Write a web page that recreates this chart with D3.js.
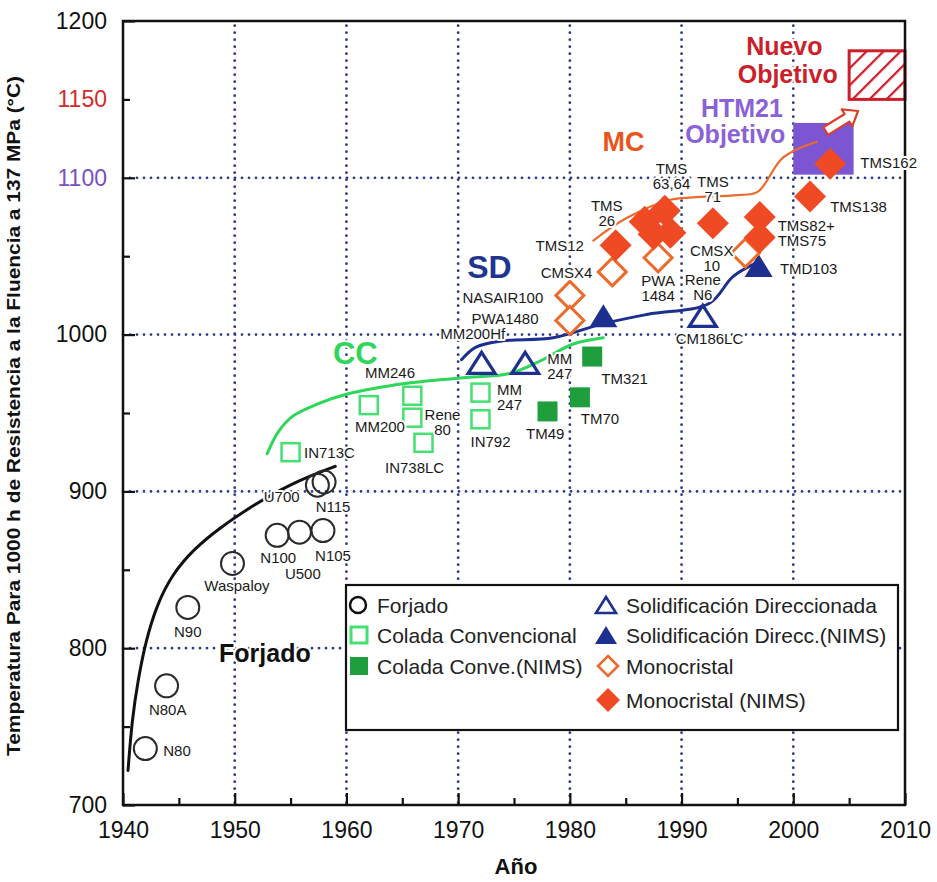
<!DOCTYPE html>
<html lang="es">
<head>
<meta charset="UTF-8">
<title>Temperatura de fluencia de superaleaciones</title>
<script src="https://cdn.jsdelivr.net/npm/d3@7"></script>
<style>
  body { margin: 0; background: #fff; }
  svg text { font-family: "Liberation Sans", Arial, sans-serif; }
  .lbl { font-size: 15px; fill: #1a1a1a; paint-order: stroke; stroke: #fff; stroke-width: 4px; stroke-linejoin: round; }
</style>
</head>
<body>
<svg id="chart" width="937" height="882"></svg>
<script>
// ---- data (year, temperature in °C) ----
const forjado = [
  { name: 'N80', year: 1942.0, temp: 736 },
  { name: 'N80A', year: 1943.9, temp: 776 },
  { name: 'N90', year: 1945.8, temp: 826 },
  { name: 'Waspaloy', year: 1949.8, temp: 854 },
  { name: 'N100', year: 1953.8, temp: 872 },
  { name: 'U500', year: 1955.8, temp: 874 },
  { name: 'N105', year: 1957.9, temp: 875 },
  { name: 'U700', year: 1957.4, temp: 904 },
  { name: 'N115', year: 1958.0, temp: 906 }
]
const colada = [
  { name: 'IN713C', year: 1955.0, temp: 925 },
  { name: 'MM200', year: 1962.0, temp: 955 },
  { name: 'MM246', year: 1965.9, temp: 961 },
  { name: 'Rene 80', year: 1965.9, temp: 947 },
  { name: 'IN738LC', year: 1966.9, temp: 931 },
  { name: 'MM 247', year: 1972.0, temp: 963 },
  { name: 'IN792', year: 1972.0, temp: 946 }
]
const coladaNims = [
  { name: 'TM49', year: 1978.0, temp: 951 },
  { name: 'TM70', year: 1980.9, temp: 960 },
  { name: 'TM321', year: 1982.0, temp: 986 }
]
const solid = [
  { name: 'MM200Hf', year: 1972.1, temp: 982 },
  { name: 'MM 247', year: 1976.0, temp: 982 },
  { name: 'CM186LC', year: 1991.9, temp: 1012 }
]
const solidNims = [
  { name: '', year: 1983.0, temp: 1012 },
  { name: 'TMD103', year: 1996.9, temp: 1044 }
]
const mono = [
  { name: 'NASAIR100', year: 1980.0, temp: 1025 },
  { name: 'PWA1480', year: 1980.0, temp: 1009 },
  { name: 'CMSX4', year: 1983.8, temp: 1040 },
  { name: 'PWA 1484', year: 1987.9, temp: 1049 },
  { name: 'CMSX 10', year: 1995.7, temp: 1052 }
]
const monoNims = [
  { name: 'TMS12', year: 1984.1, temp: 1057 },
  { name: 'TMS26', year: 1986.7, temp: 1072 },
  { name: 'TMS63', year: 1988.5, temp: 1079 },
  { name: 'TMS64', year: 1989.0, temp: 1065 },
  { name: '', year: 1987.5, temp: 1064 },
  { name: 'TMS71', year: 1992.8, temp: 1071 },
  { name: 'TMS82+', year: 1997.0, temp: 1075 },
  { name: 'TMS75', year: 1997.0, temp: 1062 },
  { name: 'TMS138', year: 2001.5, temp: 1088 },
  { name: 'TMS162', year: 2003.3, temp: 1109 }
]

// trend curves
const forjadoTrend = [[1940.45, 722], [1940.8, 754], [1941.35, 780], [1942.05, 805], [1943.05, 828], [1944.4, 847], [1946.3, 863], [1948.7, 877], [1951.4, 890], [1955.0, 905], [1959.0, 916]]
const ccTrend = [[1952.9, 924], [1953.9, 938], [1955.2, 948], [1957.5, 956], [1960, 962], [1965.4, 969], [1971.3, 973], [1974.5, 975], [1977.3, 983], [1980.3, 994], [1983.0, 998]]
const sdTrend = [[1970.3, 984], [1971.6, 992], [1974, 996], [1978.5, 998], [1983, 1007], [1987, 1013], [1992.5, 1020], [1994.6, 1037], [1996.8, 1046]]
const mcTrend = [[1982.1, 1060], [1985.0, 1074], [1989, 1086], [1991, 1087.5], [1995, 1089], [1996.8, 1091], [1999.1, 1113], [2002.1, 1123]]

// target boxes
const htm21Target = { years: [2000, 2005.4], temps: [1102, 1135] }
const newTarget = { years: [2005, 2010], temps: [1150, 1181] }
const arrowEnds = [[2002.9, 1129.8], [2005.8, 1142.6]]

// ticks
const xMajor = [1940, 1950, 1960, 1970, 1980, 1990, 2000, 2010]
const xMinor = [1945, 1955, 1965, 1975, 1985, 1995, 2005]
const yMajor = [700, 800, 900, 1000, 1100, 1200]
const yMinor = [750, 850, 950, 1050, 1150]
const xGrid = [1950, 1960, 1970, 1980, 1990, 2000]
const yGrid = [800, 900, 1000, 1100]

// point labels: lines, year, temp (centre), anchor
const pointLabels = [
  [['N80'], 1943.6, 735, 'start'],
  [['N80A'], 1944.0, 761],
  [['N90'], 1945.8, 811],
  [['Waspaloy'], 1950.2, 840],
  [['N100'], 1953.9, 858],
  [['U500'], 1956.1, 848],
  [['N105'], 1958.8, 859.5],
  [['U700'], 1954.2, 897],
  [['N115'], 1958.8, 890.7],
  [['IN713C'], 1956.2, 925, 'start'],
  [['MM200'], 1963.0, 942],
  [['MM246'], 1963.9, 976],
  [['Rene', '80'], 1968.6, 944.3],
  [['IN738LC'], 1966.1, 915.6],
  [['MM', '247'], 1974.6, 960.5],
  [['IN792'], 1972.9, 932],
  [['TM49'], 1977.8, 937.2],
  [['TM70'], 1982.7, 946.8],
  [['TM321'], 1984.9, 972.3],
  [['MM200Hf'], 1971.3, 1001],
  [['PWA1480'], 1974.2, 1010.6],
  [['NASAIR100'], 1974.0, 1024],
  [['MM', '247'], 1979.1, 980.5],
  [['CM186LC'], 1992.5, 997.8],
  [['Rene', 'N6'], 1991.9, 1030.6],
  [['PWA', '1484'], 1987.9, 1029.8],
  [['CMSX', '10'], 1992.7, 1049],
  [['TMS12'], 1979.1, 1057.1],
  [['CMSX4'], 1979.7, 1040],
  [['TMS', '26'], 1983.3, 1077.9],
  [['TMS', '63,64'], 1989.1, 1101.5],
  [['TMS', '71'], 1992.8, 1093.2],
  [['TMS82+'], 1998.6, 1069.9, 'start'],
  [['TMS75'], 1998.6, 1060.3, 'start'],
  [['TMD103'], 1998.8, 1042.5, 'start'],
  [['TMS138'], 2003.3, 1082, 'start'],
  [['TMS162'], 2006.0, 1110, 'start']
]

// big group labels: text, year, temp (baseline), colour, size
const groupLabels = [
  ['Forjado', 1952.7, 791, '#111', 25],
  ['CC', 1960.8, 981, '#2ed65a', 31],
  ['SD', 1972.8, 1036, '#1f3590', 32],
  ['MC', 1984.8, 1117, '#e8541c', 27],
  ['HTM21', 1995.4, 1139, '#8a62d6', 25],
  ['Objetivo', 1994.8, 1122, '#8a62d6', 25],
  ['Nuevo', 1999.2, 1178, '#cc1f2a', 25],
  ['Objetivo', 1999.5, 1160.5, '#cc1f2a', 25]
]

const legendLeft = ['Forjado', 'Colada Convencional', 'Colada Conve.(NIMS)']
const legendRight = ['Solidificación Direccionada', 'Solidificación Direcc.(NIMS)', 'Monocristal', 'Monocristal (NIMS)']

// ---- colours ----
const C = {
  grid: '#2b3a8c',
  forj: '#2a2a2a',
  ccOpen: '#44e070',
  ccFill: '#1f9e3e',
  sd: '#1d2f8f',
  monoOpen: '#ec6a2a',
  monoFill: '#ef4a24',
  purple: '#7b55d2',
  red: '#cc1f2a'
}

// ---- setup ----
const svg = d3.select('#chart')
const plot = { left: 123, right: 905, top: 21, bottom: 805 }

const x = d3.scaleLinear().domain([1940, 2010]).range([plot.left, plot.right])
const y = d3.scaleLinear().domain([700, 1200]).range([plot.bottom, plot.top])

const defs = svg.append('defs')
const hatch = defs.append('pattern')
  .attr('id', 'hatch')
  .attr('patternUnits', 'userSpaceOnUse')
  .attr('width', 12).attr('height', 12)
  .attr('patternTransform', 'rotate(45)')
hatch.append('rect').attr('width', 12).attr('height', 12).attr('fill', '#fff')
hatch.append('line')
  .attr('x1', 0).attr('y1', 0).attr('x2', 0).attr('y2', 12)
  .attr('stroke', C.red).attr('stroke-width', 4.5)

// grid
const grid = svg.append('g')
  .attr('stroke', C.grid)
  .attr('stroke-width', 2.8)
  .attr('stroke-linecap', 'round')
  .attr('stroke-dasharray', '0 7')
grid.selectAll('.gx').data(xGrid).join('line')
  .attr('x1', d => x(d)).attr('x2', d => x(d))
  .attr('y1', y(1197)).attr('y2', plot.bottom)
grid.selectAll('.gy').data(yGrid).join('line')
  .attr('x1', plot.left).attr('x2', plot.right)
  .attr('y1', d => y(d)).attr('y2', d => y(d))

// target boxes
svg.append('rect')
  .attr('x', x(htm21Target.years[0]))
  .attr('y', y(htm21Target.temps[1]))
  .attr('width', x(htm21Target.years[1]) - x(htm21Target.years[0]))
  .attr('height', y(htm21Target.temps[0]) - y(htm21Target.temps[1]))
  .attr('fill', C.purple)

svg.append('rect')
  .attr('x', x(newTarget.years[0]))
  .attr('y', y(newTarget.temps[1]))
  .attr('width', x(newTarget.years[1]) - x(newTarget.years[0]))
  .attr('height', y(newTarget.temps[0]) - y(newTarget.temps[1]))
  .attr('fill', 'url(#hatch)')
  .attr('stroke', C.red)
  .attr('stroke-width', 3)

// hollow arrow between the two targets
{
  const [a, b] = arrowEnds.map(d => [x(d[0]), y(d[1])])
  const len = Math.hypot(b[0] - a[0], b[1] - a[1])
  const ux = (b[0] - a[0]) / len, uy = (b[1] - a[1]) / len
  const px = -uy, py = ux
  const sw = 4.5, hw = 10, hl = 13
  const hb = [b[0] - ux * hl, b[1] - uy * hl]
  const pts = [
    [a[0] + px * sw, a[1] + py * sw],
    [hb[0] + px * sw, hb[1] + py * sw],
    [hb[0] + px * hw, hb[1] + py * hw],
    b,
    [hb[0] - px * hw, hb[1] - py * hw],
    [hb[0] - px * sw, hb[1] - py * sw],
    [a[0] - px * sw, a[1] - py * sw]
  ]
  svg.append('path')
    .attr('d', 'M' + pts.map(p => p.join(',')).join('L') + 'Z')
    .attr('fill', '#fff')
    .attr('stroke', '#d8402a')
    .attr('stroke-width', 2.2)
    .attr('stroke-linejoin', 'round')
}

// axes (ticks point inwards)
const axisG = svg.append('g')
const yAxisMajor = d3.axisLeft(y).tickValues(yMajor).tickSize(-12).tickPadding(16).tickFormat(d3.format('d'))
const yAxisMinor = d3.axisLeft(y).tickValues(yMinor).tickSize(-7).tickPadding(16).tickFormat(d => d === 1150 ? '1150' : '')
const xAxisMajor = d3.axisBottom(x).tickValues(xMajor).tickSize(-12).tickPadding(17).tickFormat(d3.format('d'))
const xAxisMinor = d3.axisBottom(x).tickValues(xMinor).tickSize(-7).tickFormat('')

const axes = [
  axisG.append('g').attr('transform', `translate(${plot.left},0)`).call(yAxisMajor),
  axisG.append('g').attr('transform', `translate(${plot.left},0)`).call(yAxisMinor),
  axisG.append('g').attr('transform', `translate(0,${plot.bottom})`).call(xAxisMajor),
  axisG.append('g').attr('transform', `translate(0,${plot.bottom})`).call(xAxisMinor)
]
axes.forEach(a => {
  a.select('.domain').remove()
  a.selectAll('line').attr('stroke', '#111').attr('stroke-width', 2.2)
  a.selectAll('text')
    .attr('font-size', 23)
    .attr('fill', '#111')
    .attr('font-family', '"Liberation Sans", Arial, sans-serif')
})
axes[1].selectAll('text').attr('fill', '#d42a2a')
axes[0].selectAll('text').filter(d => d === 1100).attr('fill', '#7a4fc0')

// frame
svg.append('rect')
  .attr('x', plot.left).attr('y', plot.top)
  .attr('width', plot.right - plot.left).attr('height', plot.bottom - plot.top)
  .attr('fill', 'none').attr('stroke', '#111').attr('stroke-width', 2.5)

// trend curves
const line = c => d3.line().x(d => x(d[0])).y(d => y(d[1])).curve(c)
const trends = [
  [forjadoTrend, '#111', 3, d3.curveBasis],
  [ccTrend, '#2ed65a', 3, d3.curveCatmullRom],
  [sdTrend, C.sd, 3, d3.curveCatmullRom],
  [mcTrend, C.monoOpen, 2.2, d3.curveCatmullRom]
]
trends.forEach(([data, color, w, c]) => {
  svg.append('path')
    .attr('d', line(c)(data))
    .attr('fill', 'none')
    .attr('stroke', color)
    .attr('stroke-width', w)
    .attr('stroke-linecap', 'round')
})

// marker shapes
const triPath = (w, h) => `M0,${-h / 2}L${w / 2},${h / 2}L${-w / 2},${h / 2}Z`
const diamondPath = r => `M0,${-r}L${r},0L0,${r}L${-r},0Z`

const marks = svg.append('g')

marks.selectAll('.forj').data(forjado).join('circle')
  .attr('cx', d => x(d.year)).attr('cy', d => y(d.temp))
  .attr('r', 11.5)
  .attr('fill', 'none').attr('stroke', C.forj).attr('stroke-width', 2)

marks.selectAll('.cc').data(colada).join('rect')
  .attr('x', d => x(d.year) - 9).attr('y', d => y(d.temp) - 9)
  .attr('width', 18).attr('height', 18)
  .attr('fill', '#fff').attr('stroke', C.ccOpen).attr('stroke-width', 2.5)

marks.selectAll('.ccn').data(coladaNims).join('rect')
  .attr('x', d => x(d.year) - 10).attr('y', d => y(d.temp) - 10)
  .attr('width', 20).attr('height', 20)
  .attr('fill', C.ccFill)

marks.selectAll('.sd').data(solid).join('path')
  .attr('transform', d => `translate(${x(d.year)},${y(d.temp)})`)
  .attr('d', triPath(27, 21))
  .attr('fill', 'none').attr('stroke', C.sd).attr('stroke-width', 3.2)

marks.selectAll('.sdn').data(solidNims).join('path')
  .attr('transform', d => `translate(${x(d.year)},${y(d.temp)})`)
  .attr('d', triPath(28, 23))
  .attr('fill', C.sd)

marks.selectAll('.mono').data(mono).join('path')
  .attr('transform', d => `translate(${x(d.year)},${y(d.temp)})`)
  .attr('d', diamondPath(14))
  .attr('fill', '#fff').attr('stroke', C.monoOpen).attr('stroke-width', 3)

marks.selectAll('.monon').data(monoNims).join('path')
  .attr('transform', d => `translate(${x(d.year)},${y(d.temp)})`)
  .attr('d', diamondPath(16))
  .attr('fill', C.monoFill)

// point labels
const lh = 15
svg.append('g').selectAll('text').data(pointLabels).join('text')
  .attr('class', 'lbl')
  .attr('text-anchor', d => d[3] || 'middle')
  .attr('dominant-baseline', 'central')
  .each(function (d) {
    const t = d3.select(this)
    const y0 = y(d[2]) - (d[0].length - 1) * lh / 2
    d[0].forEach((s, i) => {
      t.append('tspan').attr('x', x(d[1])).attr('y', y0 + i * lh).text(s)
    })
  })

// group labels
svg.append('g').selectAll('text').data(groupLabels).join('text')
  .attr('x', d => x(d[1])).attr('y', d => y(d[2]))
  .attr('text-anchor', 'middle')
  .attr('font-weight', 'bold')
  .attr('font-size', d => d[4])
  .attr('fill', d => d[3])
  .attr('stroke', '#fff').attr('stroke-width', 4).attr('paint-order', 'stroke')
  .text(d => d[0])

// axis titles
svg.append('text')
  .attr('x', 516)
  .attr('y', 874)
  .attr('text-anchor', 'middle')
  .attr('font-weight', 'bold')
  .attr('font-size', 22)
  .attr('fill', '#111')
  .text('Año')

svg.append('text')
  .attr('transform', 'translate(20,416) rotate(-90)')
  .attr('text-anchor', 'middle')
  .attr('font-weight', 'bold')
  .attr('font-size', 18)
  .attr('textLength', 680)
  .attr('lengthAdjust', 'spacingAndGlyphs')
  .attr('fill', '#111')
  .text('Temperatura Para 1000 h de Resistencia a la Fluencia a 137 MPa (°C)')

// legend
const lg = svg.append('g').attr('transform', 'translate(346,585)')
lg.append('rect')
  .attr('width', 552).attr('height', 145)
  .attr('fill', '#fff').attr('stroke', '#111').attr('stroke-width', 2.2)

const rowY = [20, 50, 81, 115]
const legText = (g, tx, ty, s) => g.append('text')
  .attr('x', tx).attr('y', ty)
  .attr('dominant-baseline', 'central')
  .attr('font-size', 21)
  .attr('fill', '#222')
  .text(s)

legendLeft.forEach((s, i) => legText(lg, 31, rowY[i], s))
legendRight.forEach((s, i) => legText(lg, 280, rowY[i], s))

lg.append('circle').attr('cx', 12).attr('cy', rowY[0]).attr('r', 8)
  .attr('fill', 'none').attr('stroke', '#111').attr('stroke-width', 2.5)
lg.append('rect').attr('x', 5).attr('y', rowY[1] - 8).attr('width', 16).attr('height', 16)
  .attr('fill', '#fff').attr('stroke', C.ccOpen).attr('stroke-width', 3)
lg.append('rect').attr('x', 4).attr('y', rowY[2] - 9).attr('width', 18).attr('height', 18)
  .attr('fill', C.ccFill)
lg.append('path').attr('transform', `translate(260,${rowY[0]})`).attr('d', triPath(20, 16))
  .attr('fill', 'none').attr('stroke', C.sd).attr('stroke-width', 2.6)
lg.append('path').attr('transform', `translate(260,${rowY[1]})`).attr('d', triPath(22, 18))
  .attr('fill', C.sd)
lg.append('path').attr('transform', `translate(262,${rowY[2]})`).attr('d', diamondPath(10))
  .attr('fill', '#fff').attr('stroke', C.monoOpen).attr('stroke-width', 2.6)
lg.append('path').attr('transform', `translate(262,${rowY[3]})`).attr('d', diamondPath(12))
  .attr('fill', C.monoFill)
</script>
</body>
</html>
